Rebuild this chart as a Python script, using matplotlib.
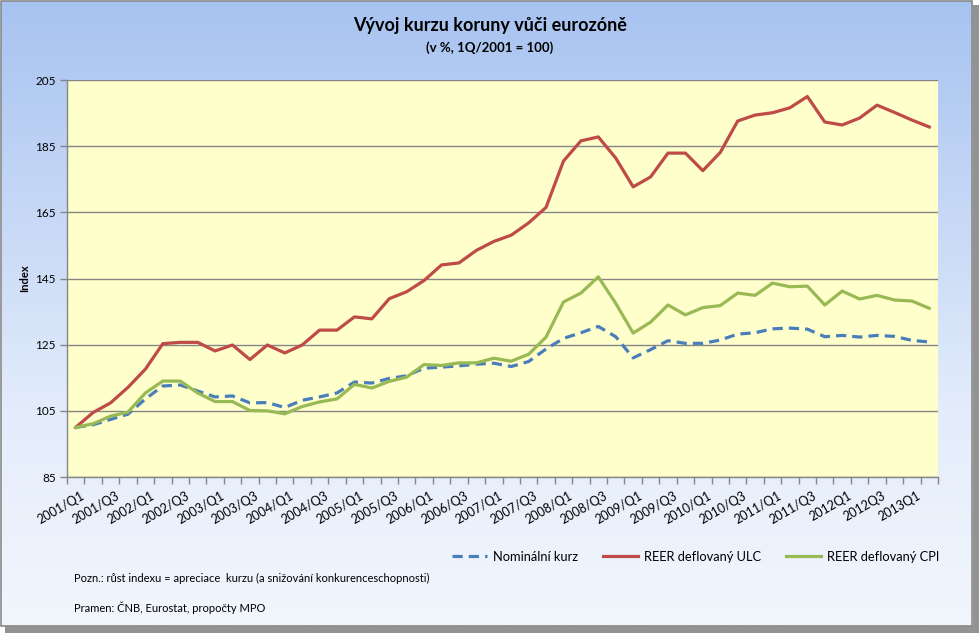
import matplotlib
matplotlib.use("Agg")
import matplotlib.pyplot as plt
import numpy as np
from matplotlib.patches import Rectangle
from matplotlib.colors import LinearSegmentedColormap
import matplotlib.transforms as mtransforms

plt.rcParams['font.family'] = ['Lato', 'DejaVu Sans']

# ---------------- data ----------------
tick_labels = ["2001/Q1", "2001/Q3", "2002/Q1", "2002/Q3", "2003/Q1", "2003/Q3",
               "2004/Q1", "2004/Q3", "2005/Q1", "2005/Q3", "2006/Q1", "2006/Q3",
               "2007/Q1", "2007/Q3", "2008/Q1", "2008/Q3", "2009/Q1", "2009/Q3",
               "2010/Q1", "2010/Q3", "2011/Q1", "2011/Q3", "2012Q1", "2012Q3",
               "2013Q1"]

nominal = [100.0, 100.8, 102.4, 104.0, 108.6, 112.5, 112.8, 111.0, 109.2, 109.5,
           107.4, 107.5, 106.0, 108.2, 109.2, 110.4, 113.7, 113.4, 114.8, 115.6,
           117.9, 118.2, 118.6, 119.1, 119.4, 118.4, 119.9, 123.7, 126.9, 128.6,
           130.5, 127.4, 121.0, 123.5, 126.2, 125.4, 125.4, 126.4, 128.2, 128.6,
           129.8, 130.0, 129.7, 127.4, 127.8, 127.3, 127.8, 127.5, 126.3, 125.8]

reer_ulc = [100.0, 104.5, 107.4, 112.1, 117.6, 125.3, 125.7, 125.7, 123.1, 124.9,
            120.5, 124.9, 122.5, 124.9, 129.4, 129.4, 133.4, 132.8, 138.9, 141.0,
            144.4, 149.1, 149.7, 153.5, 156.2, 158.1, 161.8, 166.5, 180.5, 186.6,
            187.8, 181.4, 172.7, 175.7, 182.9, 182.9, 177.6, 183.1, 192.6, 194.4,
            195.1, 196.6, 200.0, 192.3, 191.4, 193.5, 197.4, 195.2, 192.9, 190.8]

reer_cpi = [100.0, 101.1, 103.4, 104.6, 110.4, 114.0, 114.0, 110.4, 107.8, 107.8,
            105.1, 105.0, 104.1, 106.3, 107.7, 108.6, 113.0, 111.9, 113.9, 115.2,
            119.0, 118.7, 119.5, 119.5, 120.9, 120.0, 122.1, 127.3, 137.9, 140.6,
            145.5, 137.5, 128.5, 131.8, 137.0, 134.0, 136.2, 136.8, 140.6, 139.9,
            143.6, 142.5, 142.7, 137.0, 141.2, 138.8, 139.9, 138.5, 138.2, 136.0]

series_names = ["Nominální kurz", "REER deflovaný ULC", "REER deflovaný CPI"]

W, H = 980, 635
fig = plt.figure(figsize=(W / 100, H / 100), dpi=100)
fig.patch.set_facecolor("white")

# ---------------- background (chart area) ----------------
bg = fig.add_axes([0, 0, 1, 1], zorder=-10)
bg.set_xlim(0, W)
bg.set_ylim(H, 0)
bg.axis("off")
# shadow
bg.add_patch(Rectangle((5, 5), W - 6, H - 7, facecolor="#939393", edgecolor="none"))
cmap = LinearSegmentedColormap.from_list("g", ["#a7c3f0", "#c6d8f6", "#e4edfb", "#f2f6fd"])
grad = np.linspace(0, 1, 256).reshape(-1, 1)
bg.imshow(grad, cmap=cmap, extent=(1, 972, 626, 1), aspect="auto", zorder=1)
bg.add_patch(Rectangle((1, 1), 971, 625, facecolor="none", edgecolor="#8a8a8a",
                       linewidth=1.2, zorder=2))

# ---------------- main axes ----------------
x0, x1, y0, y1 = 67, 938, 80, 477
ax = fig.add_axes([x0 / W, 1 - y1 / H, (x1 - x0) / W, (y1 - y0) / H])
ax.set_facecolor("#ffffcc")

x = np.arange(len(nominal))
ax.plot(x, nominal, color="#4a7ebb", lw=2.3, dashes=(3.2, 1.9), label=series_names[0], zorder=3)
ax.plot(x, reer_ulc, color="#be4b48", lw=2.3, label=series_names[1], zorder=3)
ax.plot(x, reer_cpi, color="#98b954", lw=2.3, label=series_names[2], zorder=4)

ax.set_xlim(-0.5, len(nominal) - 0.5)
ax.set_ylim(85, 205)
ax.set_yticks(np.arange(85, 206, 20))
ax.yaxis.grid(True, color="#868686", lw=1)
ax.set_axisbelow(True)

for s in ["top", "right"]:
    ax.spines[s].set_visible(False)
for s in ["left", "bottom"]:
    ax.spines[s].set_color("#868686")
    ax.spines[s].set_linewidth(1)

ax.tick_params(axis="y", length=5, width=1, color="#868686", pad=3, labelsize=8.5,
               labelcolor="black")
ax.set_xticks(np.arange(0, len(nominal), 2))
ax.set_xticklabels(tick_labels, rotation=30, ha="right", va="top",
                   rotation_mode="anchor", fontsize=9)
ax.set_xticks(np.arange(-0.5, len(nominal), 1), minor=True)
ax.tick_params(axis="x", which="major", length=0, pad=9)
ax.tick_params(axis="x", which="minor", length=5, width=1, color="#868686")
offset = mtransforms.ScaledTranslation(5 / 100, 0, fig.dpi_scale_trans)
for lab in ax.get_xticklabels():
    lab.set_transform(lab.get_transform() + offset)

ax.set_ylabel("Index", fontsize=8, fontweight="bold")
ax.yaxis.set_label_coords((30 - x0) / (x1 - x0), 0.5)

# ---------------- titles ----------------
fig.text(490 / W, 1 - 25 / H, "Vývoj kurzu koruny vůči eurozóně", ha="center", va="center",
         fontsize=13, fontweight="bold")
fig.text(490 / W, 1 - 48 / H, "(v %, 1Q/2001 = 100)", ha="center", va="center",
         fontsize=9.5, fontweight="bold")

# ---------------- legend ----------------
h, l = ax.get_legend_handles_labels()
fig.legend(h, l, loc="center left", bbox_to_anchor=(452 / W, 1 - 557 / H), ncol=3,
           frameon=False, fontsize=9.3, handlelength=2.7, handletextpad=0.5,
           columnspacing=1.9, borderpad=0, borderaxespad=0)

# ---------------- notes ----------------
fig.text(74 / W, 1 - 578 / H,
         "Pozn.: růst indexu = apreciace  kurzu (a snižování konkurenceschopnosti)",
         ha="left", va="center", fontsize=8)
fig.text(74 / W, 1 - 608 / H, "Pramen: ČNB, Eurostat, propočty MPO",
         ha="left", va="center", fontsize=8)

fig.savefig("out.png", dpi=100)
